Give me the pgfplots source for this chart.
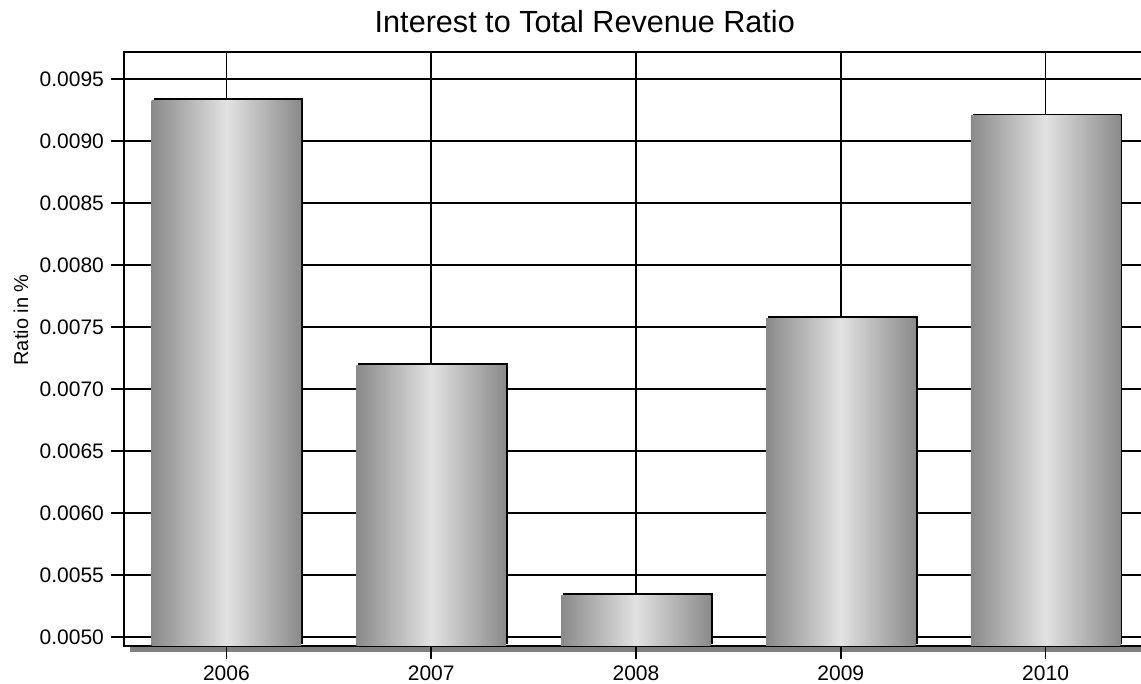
\documentclass[border=0pt]{standalone}
\usepackage{fontspec}
\setmainfont{Liberation Sans}
\usepackage{pgfplots}
\pgfplotsset{compat=1.18}
\definecolor{baredge}{RGB}{138,138,138}
\definecolor{barmid}{RGB}{226,226,226}
\definecolor{shadowgray}{RGB}{128,128,128}
\pgfplotsset{
  shadowbar/.style={ybar, bar width=0.73, bar shift=0pt, fill=black, draw=none,
    /tikz/transform canvas={xshift=1pt, yshift=1pt}},
  shadedbar/.style={ybar, bar width=0.73, bar shift=0pt, draw=none,
    left color=baredge, right color=baredge, middle color=barmid},
}
\begin{document}
\begin{tikzpicture}
\fill[shadowgray] (3pt,-3pt) rectangle (515pt,294pt);
\begin{axis}[
  at={(0,0)}, anchor=south west,
  scale only axis, width=512pt, height=297pt,
  xmin=-0.5, xmax=4.5, ymin=0.004927, ymax=0.009718,
  axis background/.style={fill=white},
  axis line style={line width=1pt},
  grid=major, major grid style={black, line width=0.75pt},
  tick align=outside, tick pos=left, major tick length=6.5pt,
  tick style={black, line width=0.75pt},
  xtick={0,1,2,3,4}, xticklabels={2006,2007,2008,2009,2010},
  ytick={0.005,0.0055,0.006,0.0065,0.007,0.0075,0.008,0.0085,0.009,0.0095},
  scaled y ticks=false,
  yticklabel style={/pgf/number format/.cd, fixed, fixed zerofill, precision=4, /tikz/.cd},
  /pgf/number format/assume math mode=true,
  ticklabel style={font=\fontsize{10.5pt}{12pt}\selectfont},
  title={Interest to Total Revenue Ratio},
  title style={at={(axis description cs:0.45,1.032)}, anchor=base, yshift=-6pt, font=\fontsize{15.3pt}{18pt}\selectfont},
  ylabel={Ratio in \%},
  ylabel style={at={(axis description cs:-0.09375,0.549)}, anchor=base, font=\fontsize{10pt}{12pt}\selectfont},
]
\addplot[shadowbar] coordinates {(0,0.00933)};
\addplot[shadedbar] coordinates {(0,0.00933)};
\addplot[shadowbar] coordinates {(1,0.00719)};
\addplot[shadedbar] coordinates {(1,0.00719)};
\addplot[shadowbar] coordinates {(2,0.005337)};
\addplot[shadedbar] coordinates {(2,0.005337)};
\addplot[shadowbar] coordinates {(3,0.00757)};
\addplot[shadedbar] coordinates {(3,0.00757)};
\addplot[shadowbar] coordinates {(4,0.009204)};
\addplot[shadedbar] coordinates {(4,0.009204)};
\end{axis}
\pgfresetboundingbox
\path[use as bounding box] (-62pt,-19pt) rectangle (508.5pt,323pt);
\end{tikzpicture}
\end{document}
